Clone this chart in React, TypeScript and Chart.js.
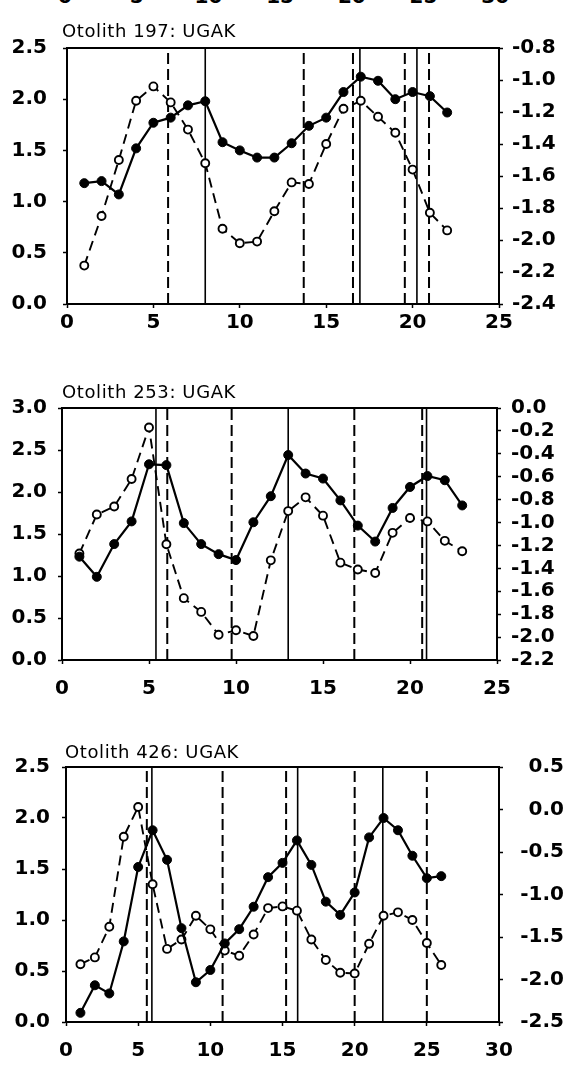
import React, { useEffect, useRef } from "react";
import { Chart, registerables } from "chart.js";

Chart.register(...registerables);

// ---------- DATA ----------
// Panel 1: Otolith 197
const idx1 = [1, 2, 3, 4, 5, 6, 7, 8, 9, 10, 11, 12, 13, 14, 15, 16, 17, 18, 19, 20, 21, 22];
const solid1 = [1.18, 1.2, 1.07, 1.52, 1.77, 1.82, 1.94, 1.98, 1.58, 1.5, 1.43, 1.43, 1.57, 1.74, 1.82, 2.07, 2.22, 2.18, 2.0, 2.07, 2.03, 1.87];
const open1 = [-2.16, -1.85, -1.5, -1.13, -1.04, -1.14, -1.31, -1.52, -1.93, -2.02, -2.01, -1.82, -1.64, -1.65, -1.4, -1.18, -1.13, -1.23, -1.33, -1.56, -1.83, -1.94];
const vSolid1 = [8.0, 16.95, 20.25];
const vDashed1 = [5.85, 13.7, 16.55, 19.55, 20.95];
const xTicks1 = [0, 5, 10, 15, 20, 25];
const leftTicks1 = [0, 0.5, 1.0, 1.5, 2.0, 2.5];
const rightTicks1 = [-2.4, -2.2, -2.0, -1.8, -1.6, -1.4, -1.2, -1.0, -0.8];

// Panel 2: Otolith 253
const idx2 = [1, 2, 3, 4, 5, 6, 7, 8, 9, 10, 11, 12, 13, 14, 15, 16, 17, 18, 19, 20, 21, 22, 23];
const solid2 = [1.23, 0.99, 1.38, 1.65, 2.33, 2.32, 1.63, 1.38, 1.26, 1.19, 1.64, 1.95, 2.44, 2.22, 2.16, 1.9, 1.6, 1.41, 1.81, 2.06, 2.19, 2.14, 1.84];
const open2 = [-1.27, -0.93, -0.86, -0.62, -0.17, -1.19, -1.66, -1.78, -1.98, -1.94, -1.99, -1.33, -0.9, -0.78, -0.94, -1.35, -1.41, -1.44, -1.09, -0.96, -0.99, -1.16, -1.25];
const vSolid2 = [5.4, 13.0, 20.95];
const vDashed2 = [6.05, 9.75, 16.8, 20.7];
const xTicks2 = [0, 5, 10, 15, 20, 25];
const leftTicks2 = [0, 0.5, 1.0, 1.5, 2.0, 2.5, 3.0];
const rightTicks2 = [-2.2, -2.0, -1.8, -1.6, -1.4, -1.2, -1.0, -0.8, -0.6, -0.4, -0.2, 0.0];

// Panel 3: Otolith 426
const idx3 = [1, 2, 3, 4, 5, 6, 7, 8, 9, 10, 11, 12, 13, 14, 15, 16, 17, 18, 19, 20, 21, 22, 23, 24, 25, 26];
const solid3 = [0.09, 0.36, 0.28, 0.79, 1.52, 1.88, 1.59, 0.92, 0.39, 0.51, 0.77, 0.91, 1.13, 1.42, 1.56, 1.78, 1.54, 1.18, 1.05, 1.27, 1.81, 2.0, 1.88, 1.63, 1.41, 1.43];
const open3 = [-1.82, -1.74, -1.38, -0.32, 0.03, -0.88, -1.64, -1.53, -1.25, -1.41, -1.66, -1.72, -1.47, -1.16, -1.14, -1.19, -1.53, -1.77, -1.92, -1.93, -1.58, -1.25, -1.21, -1.3, -1.57, -1.83];
const vSolid3 = [5.95, 16.05, 21.95];
const vDashed3 = [5.6, 10.85, 15.25, 20.0, 25.0];
const xTicks3 = [0, 5, 10, 15, 20, 25, 30];
const leftTicks3 = [0, 0.5, 1.0, 1.5, 2.0, 2.5];
const rightTicks3 = [-2.5, -2.0, -1.5, -1.0, -0.5, 0.0, 0.5];

const titles = ["Otolith 197: UGAK", "Otolith 253: UGAK", "Otolith 426: UGAK"];
const prevAxisLabels = ["0", "5", "10", "15", "20", "25", "30"];

// ---------- STYLE / LAYOUT ----------
const FONT = "'DejaVu Sans', 'Liberation Sans', Arial, sans-serif";
const W = 564;

type PanelCfg = {
  title: string;
  titleLeft: number;
  titleTop: number;
  top: number;
  height: number;
  plotLeft: number;
  plotRight: number;
  plotTop: number;
  plotBottom: number;
  idx: number[];
  solid: number[];
  open: number[];
  vSolid: number[];
  vDashed: number[];
  xTicks: number[];
  leftTicks: number[];
  rightTicks: number[];
  xPad: number;
  leftPad: number;
  rightPad: number;
  rightAlign: "near" | "far";
};

const panels: PanelCfg[] = [
  {
    title: titles[0], titleLeft: 62, titleTop: 22,
    top: 20, height: 320, plotLeft: 67, plotRight: 499, plotTop: 44, plotBottom: 304,
    idx: idx1, solid: solid1, open: open1, vSolid: vSolid1, vDashed: vDashed1,
    xTicks: xTicks1, leftTicks: leftTicks1, rightTicks: rightTicks1,
    xPad: 3, leftPad: 16, rightPad: 9, rightAlign: "near",
  },
  {
    title: titles[1], titleLeft: 62, titleTop: 383,
    top: 380, height: 325, plotLeft: 62, plotRight: 497, plotTop: 408, plotBottom: 660,
    idx: idx2, solid: solid2, open: open2, vSolid: vSolid2, vDashed: vDashed2,
    xTicks: xTicks2, leftTicks: leftTicks2, rightTicks: rightTicks2,
    xPad: 13, leftPad: 11, rightPad: 10, rightAlign: "near",
  },
  {
    title: titles[2], titleLeft: 65, titleTop: 743,
    top: 740, height: 328, plotLeft: 66, plotRight: 499, plotTop: 767, plotBottom: 1022,
    idx: idx3, solid: solid3, open: open3, vSolid: vSolid3, vDashed: vDashed3,
    xTicks: xTicks3, leftTicks: leftTicks3, rightTicks: rightTicks3,
    xPad: 13, leftPad: 12, rightPad: 9, rightAlign: "far",
  },
];

const framePlugin = {
  id: "frame",
  afterDatasetsDraw(chart: any) {
    const { ctx, chartArea } = chart;
    ctx.save();
    ctx.strokeStyle = "#000";
    ctx.lineWidth = 2;
    ctx.strokeRect(chartArea.left, chartArea.top, chartArea.right - chartArea.left, chartArea.bottom - chartArea.top);
    ctx.restore();
  },
};

const fmt1 = (v: any) => {
  const n = Number(v);
  return Math.abs(n) < 1e-9 ? "0.0" : n.toFixed(1);
};

function Panel({ cfg }: { cfg: PanelCfg }) {
  const ref = useRef<HTMLCanvasElement | null>(null);
  useEffect(() => {
    const canvas = ref.current;
    if (!canvas) return;
    const lMin = cfg.leftTicks[0];
    const lMax = cfg.leftTicks[cfg.leftTicks.length - 1];
    const rMin = cfg.rightTicks[0];
    const rMax = cfg.rightTicks[cfg.rightTicks.length - 1];
    const xMin = cfg.xTicks[0];
    const xMax = cfg.xTicks[cfg.xTicks.length - 1];

    const vLine = (v: number, dashed: boolean) => ({
      type: "scatter" as const,
      data: [{ x: v, y: lMin }, { x: v, y: lMax }],
      yAxisID: "y",
      showLine: true,
      borderColor: "#000",
      borderWidth: dashed ? 2 : 1.6,
      borderDash: dashed ? [11, 5] : [],
      pointRadius: 0,
      order: 3,
    });

    const datasets: any[] = [
      ...cfg.vSolid.map((v) => vLine(v, false)),
      ...cfg.vDashed.map((v) => vLine(v, true)),
      {
        type: "scatter",
        data: cfg.idx.map((x, i) => ({ x, y: cfg.open[i] })),
        yAxisID: "y2",
        showLine: true,
        borderColor: "#000",
        borderWidth: 1.9,
        borderDash: [10, 6],
        pointRadius: 4,
        pointBackgroundColor: "#fff",
        pointBorderColor: "#000",
        pointBorderWidth: 1.9,
        order: 2,
      },
      {
        type: "scatter",
        data: cfg.idx.map((x, i) => ({ x, y: cfg.solid[i] })),
        yAxisID: "y",
        showLine: true,
        borderColor: "#000",
        borderWidth: 2.2,
        pointRadius: 4.5,
        pointBackgroundColor: "#000",
        pointBorderColor: "#000",
        pointBorderWidth: 1,
        order: 1,
      },
    ];

    const tickFont = { family: FONT, size: 20, weight: "bold" as const };
    const gridCommon = {
      drawOnChartArea: false,
      drawTicks: true,
      tickLength: 4,
      tickColor: "#000",
      tickWidth: 1.5,
    };
    const borderCommon = { display: true, color: "#000", width: 2 };

    const chart = new Chart(canvas, {
      type: "scatter",
      data: { datasets },
      options: {
        animation: false,
        responsive: false,
        devicePixelRatio: 1,
        layout: { padding: { top: cfg.plotTop - cfg.top, left: 0, right: 0, bottom: 0 } },
        plugins: {
          legend: { display: false },
          tooltip: { enabled: false },
          title: { display: false },
        },
        scales: {
          x: {
            type: "linear",
            position: "bottom",
            min: xMin,
            max: xMax,
            afterBuildTicks: (s: any) => {
              s.ticks = cfg.xTicks.map((v) => ({ value: v }));
            },
            afterFit: (s: any) => {
              s.height = cfg.top + cfg.height - cfg.plotBottom;
            },
            grid: gridCommon,
            border: borderCommon,
            ticks: {
              color: "#000",
              font: tickFont,
              padding: cfg.xPad,
              maxRotation: 0,
              autoSkip: false,
              callback: (v: any) => String(v),
            },
          },
          y: {
            type: "linear",
            position: "left",
            min: lMin,
            max: lMax,
            afterBuildTicks: (s: any) => {
              s.ticks = cfg.leftTicks.map((v) => ({ value: v }));
            },
            afterFit: (s: any) => {
              s.width = cfg.plotLeft;
            },
            grid: gridCommon,
            border: borderCommon,
            ticks: {
              color: "#000",
              font: tickFont,
              padding: cfg.leftPad,
              autoSkip: false,
              callback: fmt1,
            },
          },
          y2: {
            type: "linear",
            position: "right",
            min: rMin,
            max: rMax,
            afterBuildTicks: (s: any) => {
              s.ticks = cfg.rightTicks.map((v) => ({ value: v }));
            },
            afterFit: (s: any) => {
              s.width = W - cfg.plotRight;
            },
            grid: gridCommon,
            border: borderCommon,
            ticks: {
              color: "#000",
              font: tickFont,
              padding: cfg.rightPad,
              autoSkip: false,
              crossAlign: cfg.rightAlign,
              callback: fmt1,
            },
          },
        },
      } as any,
      plugins: [framePlugin],
    });
    return () => chart.destroy();
  }, [cfg]);

  return (
    <>
      <canvas
        ref={ref}
        width={W}
        height={cfg.height}
        style={{ position: "absolute", left: 0, top: cfg.top, width: W, height: cfg.height }}
      />
      <div
        style={{
          position: "absolute",
          left: cfg.titleLeft,
          top: cfg.titleTop,
          fontFamily: FONT,
          fontSize: 18,
          lineHeight: "18px",
          letterSpacing: "0.6px",
          color: "#000",
          whiteSpace: "nowrap",
        }}
      >
        {cfg.title}
      </div>
    </>
  );
}

export default function App() {
  return (
    <div
      style={{
        position: "absolute",
        left: 0,
        top: 0,
        width: W,
        height: 1068,
        background: "#fff",
        overflow: "hidden",
      }}
    >
      {prevAxisLabels.map((t, i) => (
        <span
          key={t}
          style={{
            position: "absolute",
            left: 65 + i * 71.7,
            top: -14,
            transform: "translateX(-50%)",
            fontFamily: FONT,
            fontWeight: "bold",
            fontSize: 20,
            lineHeight: "20px",
            color: "#000",
          }}
        >
          {t}
        </span>
      ))}
      {panels.map((p) => (
        <Panel key={p.title} cfg={p} />
      ))}
    </div>
  );
}
